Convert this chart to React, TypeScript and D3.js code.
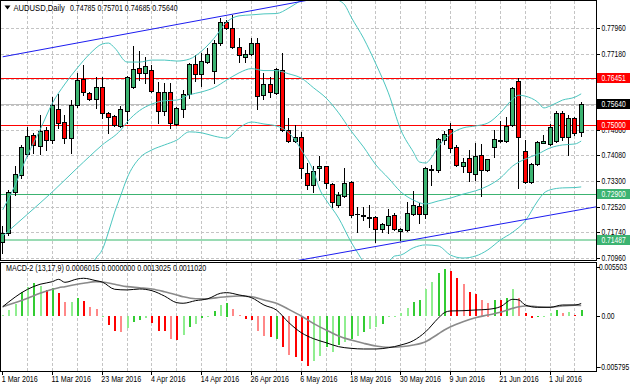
import React from 'react';
import * as d3 from 'd3';

const W = 630, H = 388;

// ---------- DATA ----------
const dateTickLabels = ['1 Mar 2016','11 Mar 2016','23 Mar 2016','4 Apr 2016','14 Apr 2016','26 Apr 2016','6 May 2016','18 May 2016','30 May 2016','9 Jun 2016','21 Jun 2016','1 Jul 2016'];
const dateTickBars = [0,8,16,24,32,40,48,56,64,72,80,88];

const priceTicks = [0.7796,0.7718,0.7641,0.7563,0.7486,0.7408,0.7330,0.7252,0.7174,0.7096];
const priceTickLabels = ['0.77960','0.77180','0.76400','0.75630','0.74860','0.74080','0.73300','0.72520','0.71740','0.70960'];

const open = [0.7144,0.7171,0.7297,0.7348,0.7412,0.7470,0.7437,0.7486,0.7455,0.7550,0.7510,0.7461,0.7562,0.7641,0.7599,0.7580,0.7617,0.7538,0.7528,0.7498,0.7544,0.7617,0.7675,0.7660,0.7669,0.7602,0.7544,0.7602,0.7504,0.7550,0.7596,0.7687,0.7657,0.7693,0.7666,0.7751,0.7815,0.7797,0.7739,0.7710,0.7718,0.7751,0.7592,0.7626,0.7599,0.7669,0.7486,0.7452,0.7464,0.7354,0.7318,0.7371,0.7376,0.7321,0.7257,0.7284,0.7327,0.7229,0.7226,0.7221,0.7220,0.7184,0.7196,0.7226,0.7177,0.7181,0.7229,0.7254,0.7229,0.7365,0.7364,0.7455,0.7489,0.7434,0.7376,0.7400,0.7351,0.7409,0.7364,0.7434,0.7455,0.7452,0.7501,0.7635,0.7422,0.7327,0.7382,0.7447,0.7443,0.7452,0.7538,0.7464,0.7522,0.74785];
const high = [0.7193,0.7303,0.7376,0.7440,0.7495,0.7477,0.7531,0.7495,0.7586,0.7596,0.7531,0.7577,0.7660,0.7684,0.7602,0.7647,0.7647,0.7541,0.7531,0.7559,0.7650,0.7742,0.7727,0.7708,0.7684,0.7632,0.7629,0.7629,0.7556,0.7608,0.7690,0.7715,0.7721,0.7736,0.7760,0.7828,0.7821,0.7837,0.7766,0.7730,0.7766,0.7766,0.7660,0.7647,0.7675,0.7721,0.7522,0.7501,0.7480,0.7385,0.7376,0.7406,0.7377,0.7324,0.7297,0.7370,0.7330,0.7251,0.7251,0.7257,0.7223,0.7203,0.7245,0.7232,0.7187,0.7266,0.7300,0.7263,0.7373,0.7379,0.7461,0.7483,0.7507,0.7440,0.7400,0.7425,0.7446,0.7443,0.7397,0.7486,0.7513,0.7525,0.7617,0.76451,0.7455,0.7385,0.7451,0.7470,0.7504,0.7544,0.7544,0.7531,0.7525,0.75701];
const low = [0.7110,0.7165,0.7287,0.7339,0.7406,0.7415,0.7412,0.7425,0.7446,0.7492,0.7446,0.7415,0.7556,0.7592,0.7577,0.7553,0.7522,0.7477,0.7498,0.7495,0.7507,0.7614,0.7638,0.7629,0.7602,0.7507,0.7531,0.7492,0.7501,0.7525,0.7583,0.7635,0.7620,0.7690,0.7629,0.7745,0.7794,0.7736,0.7693,0.7693,0.7715,0.7550,0.7580,0.7586,0.7596,0.7483,0.7449,0.7449,0.7339,0.7306,0.7297,0.7333,0.7309,0.7251,0.7251,0.7281,0.7220,0.7174,0.7211,0.7190,0.7144,0.7174,0.7171,0.7181,0.7150,0.7177,0.7226,0.7202,0.7217,0.7318,0.7358,0.7443,0.7419,0.7376,0.7358,0.7330,0.7333,0.7284,0.7361,0.7403,0.7449,0.7449,0.7498,0.7309,0.7324,0.7324,0.7379,0.7446,0.7440,0.7449,0.7455,0.7409,0.7470,0.74685];
const close = [0.7171,0.7297,0.7351,0.7434,0.7467,0.7440,0.7483,0.7455,0.7562,0.7507,0.7461,0.7562,0.7638,0.7602,0.7580,0.7617,0.7538,0.7525,0.7501,0.7550,0.7647,0.7672,0.7660,0.7681,0.7605,0.7544,0.7602,0.7507,0.7553,0.7596,0.7687,0.7657,0.7696,0.7718,0.7751,0.7815,0.7797,0.7739,0.7715,0.7718,0.7751,0.7589,0.7626,0.7602,0.7672,0.7486,0.7452,0.7464,0.7370,0.7318,0.7361,0.7377,0.7324,0.7266,0.7287,0.7324,0.7226,0.7228,0.7223,0.7218,0.7184,0.7199,0.7223,0.7184,0.7184,0.7232,0.7257,0.7229,0.7370,0.7367,0.7458,0.7474,0.7431,0.7379,0.7388,0.7358,0.7406,0.7364,0.7397,0.7458,0.7452,0.7498,0.7614,0.7464,0.7327,0.7382,0.7449,0.7453,0.7495,0.7538,0.7464,0.7522,0.7477,0.75640];

const bbUpperIdx = [0,2,4,6,8,10,12,14,16,17,18,20,22,24,26,28,30,32,34,36,38,40,42,44,46,48,50,52,54,55,56,58,60,62,64,66,67,68,69,70,72,74,76,78,80,82,83,84,86,87,88,90,92,93];
const bbUpperVal = [0.7242,0.7318,0.7409,0.7486,0.7568,0.7626,0.7675,0.7718,0.7748,0.7751,0.7736,0.7693,0.7693,0.7699,0.7699,0.7696,0.7702,0.7727,0.7766,0.7815,0.7834,0.7837,0.7840,0.7841,0.7858,0.7882,0.7907,0.7907,0.7882,0.7867,0.7831,0.7766,0.7687,0.7599,0.7486,0.7419,0.7388,0.7385,0.7404,0.7434,0.7473,0.7492,0.7498,0.7507,0.7538,0.7580,0.7592,0.7589,0.7571,0.7553,0.7559,0.7577,0.7586,0.7596];
const bbMidIdx = [0,4,8,12,16,19,20,22,24,26,28,30,32,34,36,38,40,42,44,46,48,50,52,54,56,58,60,62,64,66,68,70,72,74,76,78,80,82,84,86,88,90,92,93];
const bbMidVal = [0.7162,0.7229,0.7297,0.7370,0.7440,0.7486,0.7510,0.7545,0.7565,0.7575,0.7577,0.7593,0.7602,0.7615,0.7638,0.7660,0.7673,0.7667,0.7667,0.7657,0.7644,0.7614,0.7583,0.7538,0.7483,0.7434,0.7379,0.7339,0.7297,0.7272,0.7260,0.7269,0.7278,0.7290,0.7300,0.7315,0.7339,0.7376,0.7397,0.7412,0.7431,0.7440,0.7443,0.7452];
const bbLowIdx = [14,15,16,17,18,19,20,22,24,26,28,30,32,34,36,38,40,42,44,46,47,48,50,51,52,54,56,57,58,60,62,63,64,66,68,70,72,74,76,78,80,82,84,86,87,88,90,92,93];
const bbLowVal = [0.7065,0.7095,0.7120,0.7174,0.7235,0.7287,0.7339,0.7400,0.7425,0.7440,0.7455,0.7480,0.7477,0.7467,0.7461,0.7492,0.7510,0.7504,0.7498,0.7477,0.7455,0.7425,0.7358,0.7303,0.7272,0.7217,0.7144,0.7113,0.7083,0.7058,0.7083,0.7101,0.7104,0.7126,0.7135,0.7132,0.7104,0.7095,0.7101,0.7120,0.7150,0.7174,0.7208,0.7269,0.7293,0.7303,0.7309,0.7310,0.7312];

const trendUpperBars = [0, 48];
const trendUpperVals = [0.7709, 0.7878];
const trendLowerBars = [47, 93];
const trendLowerVals = [0.7086, 0.7243];

const levelValues = [0.76451, 0.75000, 0.72900, 0.71487];
const levelLabels = ['0.76451', '0.75000', '0.72900', '0.71487'];

const histVals = [0.0001,0.00063,0.00125,0.0025,0.00305,0.0034,0.0031,0.0027,0.0029,0.0024,0.00146,0.00146,0.00188,0.00156,0.00097,0.00074,0,-0.00092,-0.0016,-0.0017,-0.0012,-0.00058,-0.0004,-0.0002,-0.0007,-0.00155,-0.0016,-0.0024,-0.0025,-0.002,-0.0011,-0.0008,-0.0002,0.00003,0.00053,0.00115,0.0014,0.00074,0.0001,-0.0003,-0.0004,-0.0016,-0.0021,-0.0022,-0.0024,-0.0032,-0.004,-0.0042,-0.0047,-0.0052,-0.0047,-0.0041,-0.0032,-0.0037,-0.003,-0.00265,-0.0024,-0.00206,-0.0017,-0.00134,-0.0011,-0.00082,-0.00006,-0.00003,0.00029,0.00087,0.0015,0.00167,0.0028,0.0035,0.0045,0.0049,0.0047,0.0039,0.0033,0.0025,0.0023,0.00167,0.0014,0.00167,0.00167,0.0019,0.0028,0.0019,0.0003,-0.0002,-0.00003,0.00003,0.0003,0.0006,0.00035,0.00045,0.0001,0.0006015];
const histColorCodes = ('gggGgGgRGR' + 'rgGRrrgRRr' + 'gGGgRRRrRg' + 'GgGgGgGrrR' + 'RrrRGRrRRR' + 'ggGgGgGgGg' + 'gGggggGGgg' + 'GGRRrRRrrG' + 'RGgrRRGggG' + 'rgRG').split('');

const macdIdx = [0,4,6,8,9,10,12,13,15,16,18,20,22,24,26,28,29,31,33,35,36,38,40,42,44,46,48,50,52,54,56,58,60,62,64,66,68,70,71,72,74,76,78,80,82,83,84,86,88,90,92,93];
const macdVal = [0.00097,0.00278,0.00330,0.00357,0.00381,0.00350,0.00385,0.00392,0.00367,0.00353,0.00278,0.00271,0.00281,0.00263,0.00208,0.00139,0.00133,0.00160,0.00180,0.00236,0.00243,0.00219,0.00191,0.00115,0.00063,-0.00068,-0.00172,-0.00235,-0.00276,-0.00317,-0.00334,-0.00341,-0.00341,-0.00328,-0.00300,-0.00255,-0.00162,-0.00023,0.00035,0.00053,0.00056,0.00063,0.00070,0.00097,0.00174,0.00167,0.00115,0.00091,0.00091,0.00115,0.00115,0.0013025];
const signalVal = [0.00097,0.00184,0.00236,0.00278,0.00294,0.00305,0.00330,0.00340,0.00357,0.00353,0.00330,0.00305,0.00294,0.00281,0.00253,0.00219,0.00201,0.00180,0.00180,0.00195,0.00201,0.00208,0.00201,0.00167,0.00133,0.00070,0.00001,-0.00078,-0.00144,-0.00206,-0.00248,-0.00282,-0.00310,-0.00323,-0.00317,-0.00300,-0.00265,-0.00186,-0.00144,-0.00110,-0.00058,-0.00017,0.00011,0.00039,0.00081,0.00097,0.00105,0.00097,0.00091,0.00105,0.00112,0.0011020];

const macdAxisVals = [0.005503, 0, -0.005795];
const macdAxisLabels = ['0.005503', '0.00', '-0.005795'];

// ---------- STYLE ----------
const FF = "'Liberation Sans',Arial,sans-serif";
const FS = 8.3;
const UP = '#3cb371';
const DOWN = '#ff0000';
const BB = '#4cc6bf';
const histPalette: Record<string, string> = { G: '#33cc33', g: '#90ee90', R: '#ff0000', r: '#ff8888' };

function T({ x, y, sx = 0.86, fill = '#000', children }: { x: number; y: number; sx?: number; fill?: string; children: React.ReactNode }) {
  return <text transform={`translate(${x},${y}) scale(${sx},1)`} fill={fill}>{children}</text>;
}

export default function App() {
  const x = d3.scaleLinear().domain([0, 93]).range([2.7, 581.2]);
  const y = d3.scaleLinear().domain([0.7096, 0.7796]).range([257.7, 28.3]);
  const m = d3.scaleLinear().domain([-0.005795, 0.005503]).range([372, 263]);
  const px = (i: number) => Math.floor(x(i)) + 0.5;

  const priceLine = d3.line<[number, number]>().x(d => x(d[0])).y(d => y(d[1])).curve(d3.curveMonotoneX);
  const macdLine = d3.line<[number, number]>().x(d => x(d[0])).y(d => m(d[1])).curve(d3.curveMonotoneX);
  const zip = (a: number[], b: number[]) => a.map((v, i) => [v, b[i]] as [number, number]);

  const gridBars = d3.range(4, 94, 4);

  const upT = d3.scaleLinear().domain(trendUpperBars).range(trendUpperVals);
  const loT = d3.scaleLinear().domain(trendLowerBars).range(trendLowerVals);
  const rightIdx = x.invert(597);

  const levelColors = ['#ff0000', '#ff0000', '#3cb371', '#9adbb4'];
  const levelBoxColors = ['#ff0000', '#ff0000', '#3cb371', '#3cb371'];
  const levelWidths = [1, 1, 1, 2];
  const lastClose = close[close.length - 1];
  const NUM = 0.81;

  return (
    <svg width={W} height={H} style={{ position: 'absolute', left: 0, top: 0, background: '#fff' }} fontFamily={FF} fontSize={FS}>
      <defs>
        <clipPath id="mainClip"><rect x={1} y={1} width={595} height={259} /></clipPath>
        <clipPath id="macdClip"><rect x={1} y={263} width={595} height={108} /></clipPath>
      </defs>
      <rect x={0} y={0} width={W} height={H} fill="#fff" />

      {/* grid */}
      <g stroke="#c4c4c4" strokeDasharray="3,2" shapeRendering="crispEdges">
        {gridBars.map(b => (
          <g key={'v' + b}>
            <line x1={px(b)} x2={px(b)} y1={1} y2={260} />
            <line x1={px(b)} x2={px(b)} y1={263} y2={371} />
          </g>
        ))}
        {priceTicks.map(t => (
          <line key={'h' + t} x1={1} x2={596} y1={Math.round(y(t)) + 0.5} y2={Math.round(y(t)) + 0.5} />
        ))}
      </g>

      <g clipPath="url(#mainClip)">
        {/* horizontal levels */}
        <line x1={1} x2={596} y1={Math.round(y(lastClose)) + 0.5} y2={Math.round(y(lastClose)) + 0.5} stroke="#bdbdbd" shapeRendering="crispEdges" />
        {levelValues.map((v, k) => (
          <line key={'lv' + k} x1={1} x2={596} y1={Math.round(y(v)) + (levelWidths[k] === 1 ? 0.5 : 0)} y2={Math.round(y(v)) + (levelWidths[k] === 1 ? 0.5 : 0)} stroke={levelColors[k]} strokeWidth={levelWidths[k]} shapeRendering="crispEdges" />
        ))}

        {/* candles */}
        {open.map((o, i) => {
          const c = close[i];
          const xc = px(i);
          const yo = y(o), yc = y(c);
          const top = Math.round(Math.min(yo, yc)) + 0.5;
          const hgt = Math.max(0, Math.round(Math.abs(yo - yc)));
          const fill = c >= o ? UP : DOWN;
          return (
            <g key={'c' + i} shapeRendering="crispEdges">
              <line x1={xc} x2={xc} y1={Math.round(y(high[i]))} y2={Math.round(y(low[i])) + 1} stroke="#000" />
              {hgt >= 1 ? (
                <rect x={xc - 2} y={top} width={4} height={hgt} fill={fill} stroke="#000" />
              ) : (
                <line x1={xc - 2.5} x2={xc + 2.5} y1={top} y2={top} stroke="#000" />
              )}
            </g>
          );
        })}

        {/* Bollinger bands */}
        <g fill="none" stroke={BB} strokeWidth={1}>
          <path d={priceLine(zip(bbUpperIdx, bbUpperVal)) || ''} />
          <path d={priceLine(zip(bbMidIdx, bbMidVal)) || ''} />
          <path d={priceLine(zip(bbLowIdx, bbLowVal)) || ''} />
        </g>

        {/* trend lines */}
        <line x1={x(trendUpperBars[0])} y1={y(trendUpperVals[0])} x2={x(60)} y2={y(upT(60))} stroke="#1c1cf0" strokeWidth={1} />
        <line x1={x(trendLowerBars[0])} y1={y(trendLowerVals[0])} x2={x(rightIdx)} y2={y(loT(rightIdx))} stroke="#1c1cf0" strokeWidth={1} />
      </g>

      {/* MACD panel */}
      <g clipPath="url(#macdClip)">
        {histVals.map((v, i) => {
          const y0 = m(0), y1 = m(v);
          const t = Math.round(Math.min(y0, y1));
          const h = Math.max(1, Math.round(Math.abs(y1 - y0)));
          return <rect key={'hb' + i} x={Math.floor(x(i))} y={t} width={2} height={h} fill={histPalette[histColorCodes[i]]} shapeRendering="crispEdges" />;
        })}
        <path d={macdLine(zip(macdIdx, signalVal)) || ''} fill="none" stroke="#8a8a8a" strokeWidth={1.6} />
        <path d={macdLine(zip(macdIdx, macdVal)) || ''} fill="none" stroke="#000" strokeWidth={1} />
      </g>

      {/* panel borders */}
      <g fill="none" stroke="#000" shapeRendering="crispEdges">
        <rect x={0.5} y={0.5} width={596} height={260} />
        <rect x={0.5} y={262.5} width={596} height={109} />
      </g>

      {/* right price axis */}
      {priceTicks.map((t, k) => (
        <g key={'pt' + k}>
          <line x1={597} x2={600} y1={Math.round(y(t)) + 0.5} y2={Math.round(y(t)) + 0.5} stroke="#000" shapeRendering="crispEdges" />
          <T x={601.5} y={y(t) + 3} sx={NUM}>{priceTickLabels[k]}</T>
        </g>
      ))}
      {levelValues.map((v, k) => (
        <g key={'lb' + k}>
          <rect x={597} y={Math.round(y(v)) - 5} width={33} height={10} fill={levelBoxColors[k]} />
          <T x={601.5} y={y(v) + 3} sx={NUM} fill="#fff">{levelLabels[k]}</T>
        </g>
      ))}
      <g>
        <rect x={597} y={Math.round(y(lastClose)) - 5} width={33} height={10} fill="#000" />
        <T x={601.5} y={y(lastClose) + 3} sx={NUM} fill="#fff">{lastClose.toFixed(5)}</T>
      </g>

      {/* MACD axis */}
      {macdAxisVals.map((v, k) => {
        const yy = k === 0 ? 266.7 : k === 2 ? 366.7 : m(v);
        return (
          <g key={'ma' + k}>
            <line x1={597} x2={600} y1={Math.round(yy) + 0.5} y2={Math.round(yy) + 0.5} stroke="#000" shapeRendering="crispEdges" />
            <T x={k === 1 ? 601.5 : 599} y={yy + 3} sx={NUM}>{macdAxisLabels[k]}</T>
          </g>
        );
      })}

      {/* date axis */}
      {dateTickBars.map((b, k) => (
        <g key={'dt' + k}>
          <line x1={px(b)} x2={px(b)} y1={372} y2={375} stroke="#000" shapeRendering="crispEdges" />
          <T x={x(b) - 1} y={382}>{dateTickLabels[k]}</T>
        </g>
      ))}

      {/* headers */}
      <path d="M4.5,5.5 L10.5,5.5 L7.5,9.5 Z" fill="#000" />
      <T x={13.5} y={11} sx={0.92}>AUDUSD,Daily</T>
      <T x={70} y={11} sx={0.85}>{[open[93], high[93], low[93], close[93]].map(v => v.toFixed(5)).join(' ')}</T>
      <T x={6} y={271} sx={0.86}>{'MACD-2 (13,17,9) 0.0006015 0.0000000 0.0013025 0.0011020'}</T>
    </svg>
  );
}
